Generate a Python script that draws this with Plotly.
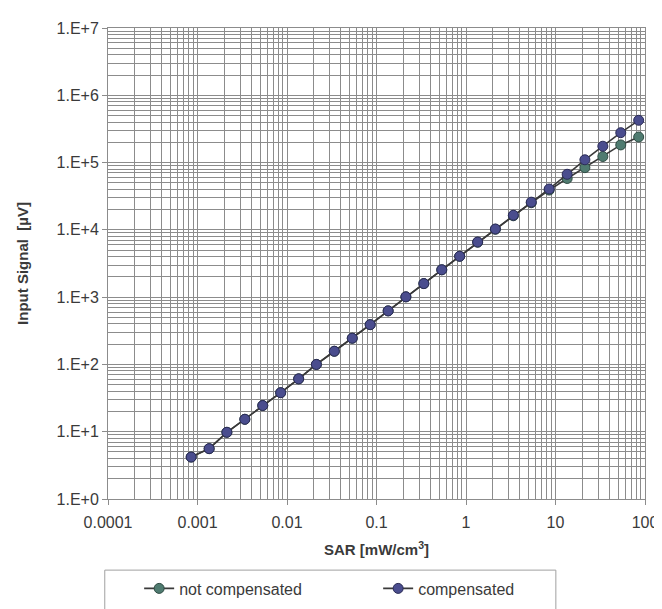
import plotly.graph_objects as go

# SAR values [mW/cm^3]
sar = [0.00085, 0.00135, 0.00213, 0.00338, 0.00536, 0.0085, 0.0135, 0.0213,
       0.0338, 0.0536, 0.085, 0.135, 0.213, 0.338, 0.536, 0.85, 1.35, 2.13,
       3.38, 5.36, 8.5, 13.5, 21.3, 33.8, 53.6, 85]

# Input signal [uV]
not_compensated = [4.2, 5.6, 9.8, 15.3, 24.5, 38, 61, 100, 157, 245, 390, 625,
                   1010, 1590, 2550, 4050, 6550, 10200, 16200, 25300, 39000,
                   58000, 84000, 123000, 183000, 240000]
compensated = [4.2, 5.6, 9.8, 15.3, 24.5, 38, 61, 100, 157, 245, 390, 625,
               1010, 1590, 2550, 4050, 6600, 10300, 16500, 25800, 40500,
               67000, 110000, 175000, 278000, 425000]

x_tickvals = [1e-4, 1e-3, 1e-2, 1e-1, 1, 10, 100]
x_ticktext = ["0.0001", "0.001", "0.01", "0.1", "1", "10", "100"]
y_tickvals = [1, 10, 100, 1e3, 1e4, 1e5, 1e6, 1e7]
y_ticktext = ["1.E+0", "1.E+1", "1.E+2", "1.E+3", "1.E+4", "1.E+5", "1.E+6", "1.E+7"]

x_minor = [m * 10 ** e for e in range(-4, 2) for m in range(2, 10)]
y_minor = [m * 10 ** e for e in range(0, 7) for m in range(2, 10)]

FONT = "Liberation Sans, Arial, sans-serif"
TXT = "#3a3a3a"
GRID = "#8c8c8c"

fig = go.Figure()
fig.add_trace(go.Scatter(
    x=sar, y=not_compensated, name="not compensated", mode="lines+markers",
    line=dict(color="#3a3a3a", width=1.6),
    marker=dict(size=10, color="#4f7b70", line=dict(color="#2e4a42", width=1)),
))
fig.add_trace(go.Scatter(
    x=sar, y=compensated, name="compensated", mode="lines+markers",
    line=dict(color="#3a3a3a", width=1.6),
    marker=dict(size=10, color="#4a4d8e", line=dict(color="#2a2b55", width=1)),
))

axis_common = dict(
    type="log", showgrid=True, gridcolor=GRID, gridwidth=1,
    showline=True, linecolor=GRID, linewidth=1, mirror=True,
    ticks="outside", ticklen=5, tickcolor=GRID, zeroline=False,
    tickfont=dict(family=FONT, size=16, color=TXT),
)

fig.update_xaxes(
    **axis_common, range=[-4, 2], tickmode="array",
    tickvals=x_tickvals, ticktext=x_ticktext, ticklabelstandoff=4,
    minor=dict(tickmode="array", tickvals=x_minor, showgrid=True,
               gridcolor=GRID, gridwidth=1, ticks=""),
    title=dict(text="<b>SAR [mW/cm<sup>3</sup>]</b>", standoff=14,
               font=dict(family=FONT, size=15, color=TXT)),
)
fig.update_yaxes(
    **axis_common, range=[0, 7], tickmode="array",
    tickvals=y_tickvals, ticktext=y_ticktext,
    minor=dict(tickmode="array", tickvals=y_minor, showgrid=True,
               gridcolor=GRID, gridwidth=1, ticks=""),
    title=dict(text="<b>Input Signal  [µV]</b>", standoff=24,
               font=dict(family=FONT, size=15, color=TXT)),
)

fig.add_shape(type="rect", xref="paper", yref="paper",
              x0=-0.006, x1=0.834, y0=-0.235, y1=-0.151,
              line=dict(color="#a0a0a0", width=1), fillcolor="rgba(0,0,0,0)")

fig.update_layout(
    width=662, height=609,
    margin=dict(l=100, r=19, t=15, b=110),
    paper_bgcolor="white", plot_bgcolor="white",
    font=dict(family=FONT, size=15, color=TXT),
    showlegend=True,
    legend=dict(orientation="h", x=0.058, y=-0.19, xanchor="left", yanchor="middle",
                entrywidth=194, entrywidthmode="pixels",
                bgcolor="rgba(0,0,0,0)", borderwidth=0,
                font=dict(family=FONT, size=16, color=TXT)),
)

fig.write_html("out.html")
